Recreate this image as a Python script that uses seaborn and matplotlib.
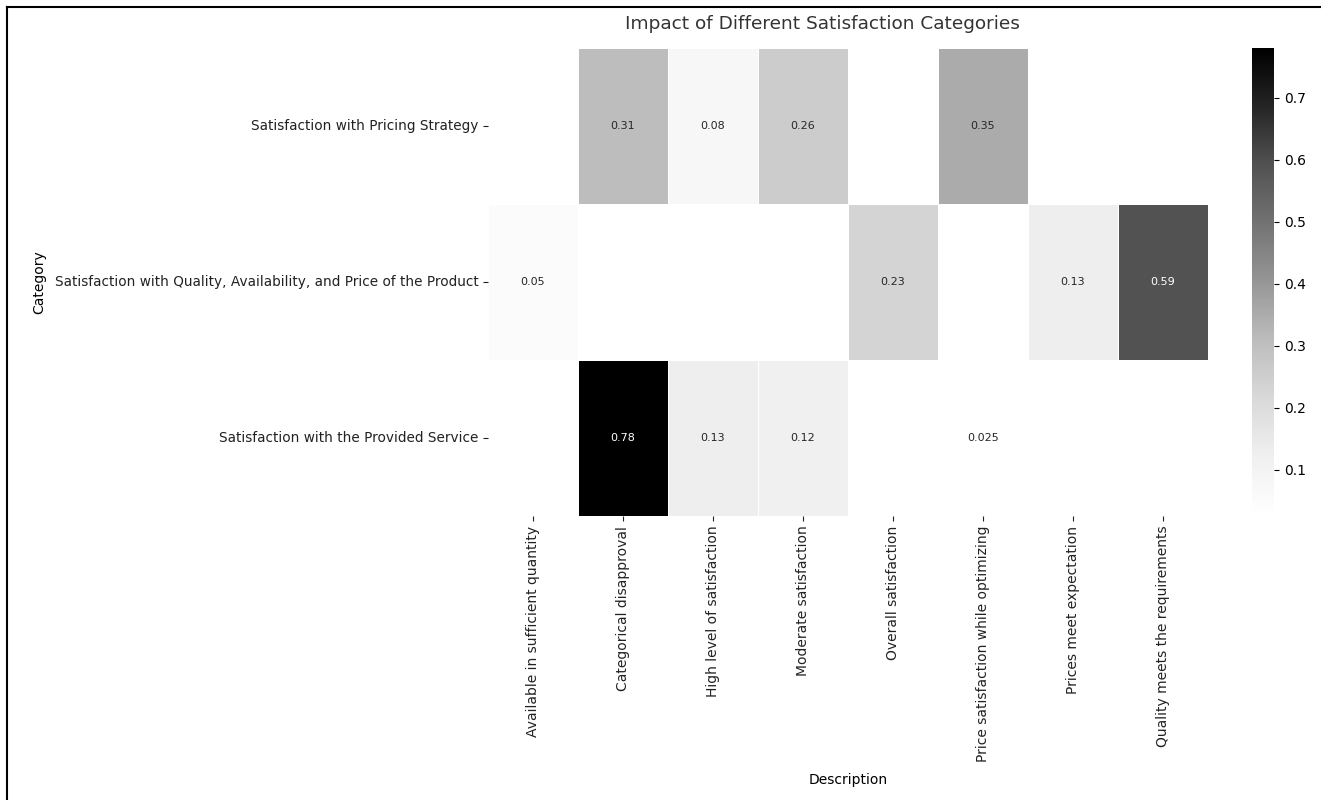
import numpy as np
import pandas as pd
import matplotlib
matplotlib.use("Agg")
import matplotlib.pyplot as plt
from matplotlib.lines import Line2D
import seaborn as sns

categories = [
    "Satisfaction with Pricing Strategy",
    "Satisfaction with Quality, Availability, and Price of the Product",
    "Satisfaction with the Provided Service",
]
descriptions = [
    "Available in sufficient quantity",
    "Categorical disapproval",
    "High level of satisfaction",
    "Moderate satisfaction",
    "Overall satisfaction",
    "Price satisfaction while optimizing",
    "Prices meet expectation",
    "Quality meets the requirements",
]
pricing_values = [np.nan, 0.31, 0.08, 0.26, np.nan, 0.35, np.nan, np.nan]
product_values = [0.05, np.nan, np.nan, np.nan, 0.23, np.nan, 0.13, 0.59]
service_values = [np.nan, 0.78, 0.13, 0.12, np.nan, 0.025, np.nan, np.nan]

df = pd.DataFrame([pricing_values, product_values, service_values],
                  index=pd.Index(categories, name="Category"),
                  columns=pd.Index(descriptions, name="Description"))

plt.rcParams['font.family'] = ['DejaVu Sans']
W, H = 1321, 800
fig = plt.figure(figsize=(W / 100, H / 100), dpi=100)
ax = fig.add_axes([488 / W, 1 - 516 / H, 720 / W, 468 / H])
cax = fig.add_axes([1252 / W, 1 - 516 / H, 22 / W, 468 / H])

sns.heatmap(df, ax=ax, cbar_ax=cax, cmap="Greys", annot=True, fmt=".2g",
            linewidths=0.5, linecolor="white", annot_kws={"fontsize": 8})

ax.set_title("Impact of Different Satisfaction Categories", fontsize=13.3,
             color="#333333", pad=14, x=0.464)
ax.set_xlabel("Description", fontsize=10, labelpad=8)
ax.set_ylabel("Category", fontsize=10, labelpad=6)
ax.tick_params(axis="x", labelsize=10, colors="#222222")
ax.tick_params(axis="y", labelsize=9.8, colors="#222222")
ax.set_xticklabels(ax.get_xticklabels(), rotation=90)
ax.set_yticklabels(ax.get_yticklabels(), rotation=0)
cax.tick_params(labelsize=10)

# frame lines on top and left edges as in the reference image
fig.add_artist(Line2D([7 / W, 1], [1 - 7 / H, 1 - 7 / H], transform=fig.transFigure,
                      color="black", linewidth=1.5))
fig.add_artist(Line2D([7 / W, 7 / W], [0, 1 - 7 / H], transform=fig.transFigure,
                      color="black", linewidth=1.5))

fig.savefig("out.png", dpi=100)
